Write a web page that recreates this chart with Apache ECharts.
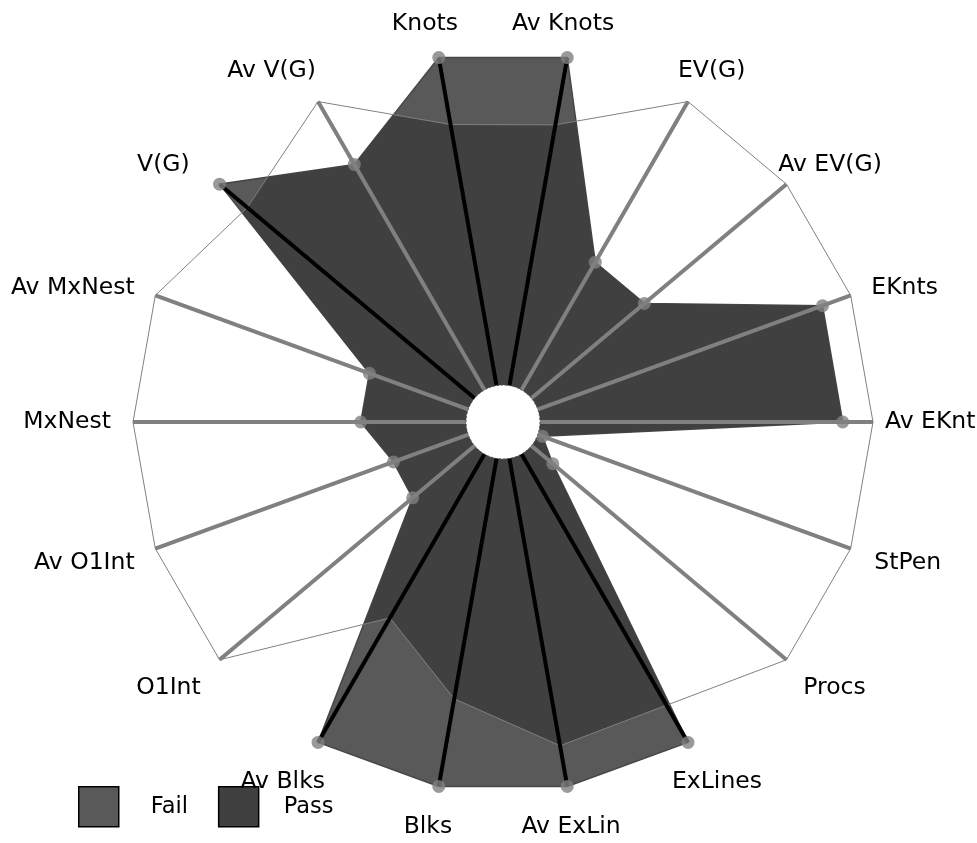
<!DOCTYPE html>
<html><head><meta charset="utf-8">
<script src="https://cdn.jsdelivr.net/npm/echarts@6/dist/echarts.min.js"></script>
<style>html,body{margin:0;padding:0;background:#fff}#c{width:977px;height:843px}</style>
</head><body><div id="c"></div>
<script>
// Axis names, clockwise from the top-left spoke
const categories = ['Knots','Av Knots','EV(G)','Av EV(G)','EKnts','Av EKnt','StPen','Procs','ExLines','Av ExLin','Blks','Av Blks','O1Int','Av O1Int','MxNest','Av MxNest','V(G)','Av V(G)'];
// Measured value of each metric, scaled so the outer ring is 1 (0 = inner hole)
const values = [1, 1, 0.443, 0.443, 0.910, 0.909, 0.015, 0.084, 1, 1, 1, 1, 0.243, 0.239, 0.316, 0.316, 1, 0.782];
// Threshold (limit) of each metric on the same scale
const limits = [0.796, 0.795, 1, 1, 1, 1, 1, 1, 0.871, 0.876, 0.733, 0.568, 1, 1, 1, 1, 0.891, 1];
const seriesNames = ['Fail', 'Pass'];

// Style only: small nudges [dx, dy] of each axis name from its default place
const labelNudge = [[-10,0],[-8,0],[-21,0],[-25,7],[0,12],[-10,2],[3,-5],[0,2],[-27,8],[0,7],[-7,7],[18,8],[-2,2],[0,-5],[0,2],[0,12],[-13,7],[9,0]];

const FONT = 'DejaVu Sans';
const spokeColors = limits.map((l, i) => values[i] > l ? '#000000' : '#808080');
const angleData = categories.map((name, i) => {
  const d = labelNudge[i];
  return { value: name, textStyle: { padding: [d[1], -d[0], -d[1], d[0]] } };
});
function pts(api, arr) { return arr.map((v, i) => api.coord([v, i])); }

const chart = echarts.init(document.getElementById('c'));
chart.setOption({
  animation: false,
  polar: { center: [503, 422], radius: [37, 370] },
  angleAxis: {
    type: 'category', data: angleData, startAngle: 100, clockwise: true, boundaryGap: false, z: 5,
    axisLine: { show: false }, axisTick: { show: false, interval: 0 },
    axisLabel: { interval: 0, margin: 22, color: '#000', fontFamily: FONT, fontSize: 23.5 },
    splitLine: { show: true, interval: 0, lineStyle: { color: spokeColors, width: 4 } }
  },
  radiusAxis: {
    type: 'value', min: 0, max: 1,
    axisLine: { show: false }, axisTick: { show: false }, axisLabel: { show: false }, splitLine: { show: false }
  },
  legend: {
    left: 78, top: 786, padding: 0, itemWidth: 40, itemHeight: 40, itemGap: 30, icon: 'rect', selectedMode: false,
    itemStyle: { borderColor: '#000', borderWidth: 1.5 },
    textStyle: { fontFamily: FONT, fontSize: 22.5, color: '#000' },
    data: [
      { name: seriesNames[0], textStyle: { padding: [0, 0, 0, 27] } },
      { name: seriesNames[1], textStyle: { padding: [0, 0, 0, 20] } }
    ]
  },
  series: [
    {
      name: seriesNames[0], type: 'custom', coordinateSystem: 'polar', z: 1,
      itemStyle: { color: '#595959' }, data: [[0, 0]],
      renderItem: (params, api) => ({
        type: 'polygon', shape: { points: pts(api, values) },
        style: { fill: '#595959', stroke: '#474747', lineWidth: 1.5 }
      })
    },
    {
      name: seriesNames[1], type: 'custom', coordinateSystem: 'polar', z: 2,
      itemStyle: { color: '#404040' }, data: [[0, 0]],
      renderItem: (params, api) => ({
        type: 'polygon', shape: { points: pts(api, values) },
        clipPath: { type: 'polygon', shape: { points: pts(api, limits) } },
        style: { fill: '#404040' }
      })
    },
    {
      name: 'limit', type: 'custom', coordinateSystem: 'polar', z: 3, data: [[0, 0]], silent: true,
      renderItem: (params, api) => ({
        type: 'polygon', shape: { points: pts(api, limits) },
        style: { fill: 'none', stroke: '#808080', lineWidth: 1 }
      })
    },
    {
      name: 'points', type: 'scatter', coordinateSystem: 'polar', z: 8, symbol: 'circle', symbolSize: 13,
      itemStyle: { color: '#808080' }, silent: true,
      data: values.map((v, i) => [v, i])
    },
    {
      name: 'hole', type: 'custom', coordinateSystem: 'polar', z: 9, data: [[0, 0]], silent: true,
      renderItem: (params) => ({
        type: 'circle',
        shape: { cx: params.coordSys.cx, cy: params.coordSys.cy, r: params.coordSys.r0 },
        style: { fill: '#ffffff', stroke: '#555555', lineWidth: 1, lineDash: [2, 2] }
      })
    }
  ]
});
</script></body></html>
